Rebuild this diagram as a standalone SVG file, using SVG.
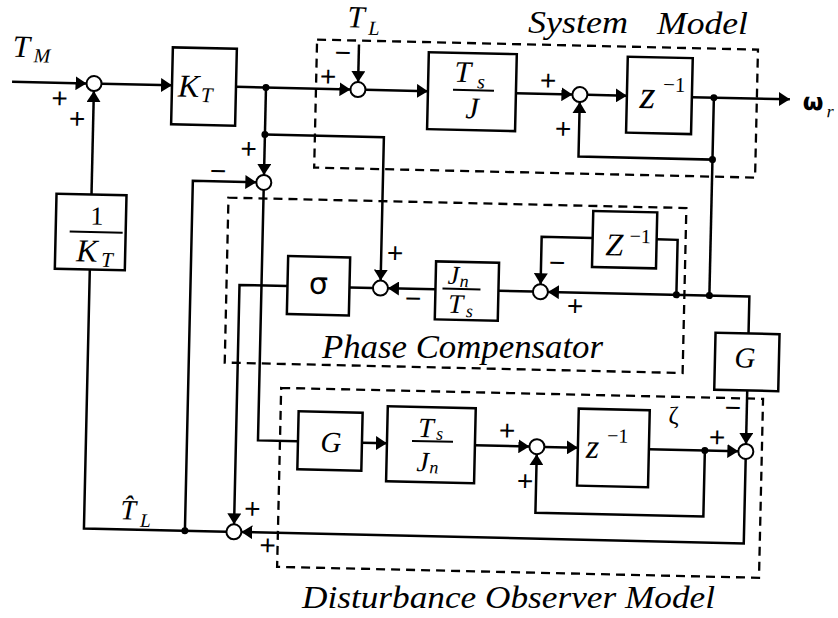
<svg xmlns="http://www.w3.org/2000/svg" width="838" height="618" viewBox="0 0 838 618">
<style>
.ln{fill:none;stroke:#000;stroke-width:2.5;stroke-linejoin:miter}
.ar{marker-end:url(#ah)}
.bx{fill:#fff;stroke:#000;stroke-width:2.5}
.db{fill:none;stroke:#000;stroke-width:2.3;stroke-dasharray:9 6}
.sm{fill:#fff;stroke:#000;stroke-width:2}
.dot{fill:#000}
.mi{font-family:"Liberation Serif",serif;font-style:italic;fill:#000}
.rm{font-family:"Liberation Serif",serif;fill:#000}
.sg{font-family:"Liberation Sans",sans-serif;font-size:28px;text-anchor:middle;fill:#000}
.lbl{font-family:"Liberation Serif",serif;font-style:italic;fill:#000}
.fr{stroke:#000;stroke-width:2}
</style>
<defs>
<marker id="ah" markerUnits="userSpaceOnUse" markerWidth="12" markerHeight="14" refX="11" refY="7" orient="auto"><path d="M0,0 L11,7 L0,14 z" fill="#000"/></marker>
</defs>
<rect width="838" height="618" fill="#fff"/>
<g id="titles">
<text class="lbl" font-size="32"><tspan x="528" y="33" textLength="100" lengthAdjust="spacingAndGlyphs">System</tspan><tspan x="657" y="34" textLength="91" lengthAdjust="spacingAndGlyphs">Model</tspan></text>
<text class="lbl" x="322" y="358" font-size="33" textLength="281" lengthAdjust="spacingAndGlyphs">Phase Compensator</text>
<text class="lbl" x="302" y="608" font-size="32" textLength="413" lengthAdjust="spacingAndGlyphs">Disturbance Observer Model</text>
</g>
<g transform="rotate(1.3 419 309)">
<g id="regions">
<rect class="db" x="311" y="42" width="441" height="128"/>
<rect class="db" x="226" y="202" width="458" height="165"/>
<rect class="db" x="283" y="391" width="482" height="179"/>
</g>
<g id="connectors">
<path class="ln ar" d="M7,91 H81.5"/>
<path class="ln ar" d="M96.5,91 H167"/>
<path class="ln ar" d="M231,91 H345.5"/>
<path class="ln ar" d="M353,46 V83.5"/>
<path class="ln ar" d="M360.5,91 H423"/>
<path class="ln ar" d="M511,91 H567.5"/>
<path class="ln ar" d="M582.5,91 H622"/>
<path class="ln ar" d="M687,91 H785"/>
<path class="ln ar" d="M709,91 V153 H575 V98.5"/>
<path class="ln ar" d="M261,91 V178.5"/>
<path class="ln ar" d="M261,138 H380 V281.5"/>
<path class="ln" d="M261,193.5 V444 H301"/>
<path class="ln ar" d="M365,444 H390"/>
<path class="ln ar" d="M478,444 H532.5"/>
<path class="ln ar" d="M547.5,444 H581"/>
<path class="ln ar" d="M652,444 H741.5"/>
<path class="ln ar" d="M708,444 V510 H540 V451.5"/>
<path class="ln ar" d="M749,451.5 V536 H246.5"/>
<path class="ln ar" d="M749,383 V436.5"/>
<path class="ln" d="M709,153 V289"/>
<path class="ln ar" d="M749,326 V289 H547.5"/>
<path class="ln" d="M655,234 H676 V289"/>
<path class="ln ar" d="M591,234 H540 V281.5"/>
<path class="ln" d="M532.5,289 H498"/>
<path class="ln ar" d="M435,289 H387.5"/>
<path class="ln" d="M372.5,289 H349"/>
<path class="ln ar" d="M287,289 H239 V528.5"/>
<path class="ln" d="M231.5,536 H89 V277"/>
<path class="ln ar" d="M89,202 V98.5"/>
<path class="ln ar" d="M190,536 V186 H253.5"/>
<circle class="dot" cx="261" cy="91" r="3.5"/>
<circle class="dot" cx="261" cy="138" r="3.5"/>
<circle class="dot" cx="709" cy="91" r="3.5"/>
<circle class="dot" cx="709" cy="153" r="3.5"/>
<circle class="dot" cx="709" cy="289" r="3.5"/>
<circle class="dot" cx="676" cy="289" r="3.5"/>
<circle class="dot" cx="708" cy="444" r="3.5"/>
<circle class="dot" cx="190" cy="536" r="3.5"/>
</g>
<g id="labels">
<text class="mi"><tspan x="7" y="66" font-size="31">T</tspan><tspan x="28" y="71" font-size="20">M</tspan></text>
<text class="mi"><tspan x="341" y="29" font-size="31">T</tspan><tspan x="362" y="36" font-size="20">L</tspan></text>
<text class="mi"><tspan x="125" y="526" font-size="28">T̂</tspan><tspan x="145" y="533" font-size="19">L</tspan></text>
<text class="rm" x="676" y="418" font-size="25" text-anchor="middle">ζ</text>
<text font-family="DejaVu Sans, sans-serif" font-weight="bold" fill="#000"><tspan x="798" y="101" font-size="24">ω</tspan><tspan x="822" y="108" font-size="18" font-family="Liberation Serif, serif" font-style="italic" font-weight="normal">r</tspan></text>
<text class="sg" x="55" y="116">+</text>
<text class="sg" x="73" y="136">+</text>
<text class="sg" x="337" y="64">−</text>
<text class="sg" x="323" y="88">+</text>
<text class="sg" x="543" y="87">+</text>
<text class="sg" x="559" y="135">+</text>
<text class="sg" x="245" y="162">+</text>
<text class="sg" x="215" y="185">−</text>
<text class="sg" x="394" y="263">+</text>
<text class="sg" x="413" y="308">−</text>
<text class="sg" x="556" y="269">−</text>
<text class="sg" x="575" y="312">+</text>
<text class="sg" x="510" y="438">+</text>
<text class="sg" x="529" y="488">+</text>
<text class="sg" x="735" y="410">−</text>
<text class="sg" x="720" y="440">+</text>
<text class="sg" x="257" y="522">+</text>
<text class="sg" x="273" y="558">+</text>
</g>
<g id="sum1"><circle class="sm" cx="89" cy="91" r="7.5"/></g>
<g id="sum2"><circle class="sm" cx="353" cy="91" r="7.5"/></g>
<g id="sum3"><circle class="sm" cx="575" cy="91" r="7.5"/></g>
<g id="sum4"><circle class="sm" cx="261" cy="186" r="7.5"/></g>
<g id="sum5"><circle class="sm" cx="380" cy="289" r="7.5"/></g>
<g id="sum6"><circle class="sm" cx="540" cy="289" r="7.5"/></g>
<g id="sum7"><circle class="sm" cx="540" cy="444" r="7.5"/></g>
<g id="sum8"><circle class="sm" cx="749" cy="444" r="7.5"/></g>
<g id="sum9"><circle class="sm" cx="239" cy="536" r="7.5"/></g>
<g id="kt">
<rect class="bx" x="167" y="53" width="64" height="77"/>
<text class="mi"><tspan x="173" y="102" font-size="32">K</tspan><tspan x="196" y="107" font-size="21">T</tspan></text>
</g>
<g id="tsj">
<rect class="bx" x="423" y="52" width="88" height="77"/>
<text class="mi"><tspan x="449" y="81" font-size="30">T</tspan><tspan x="472" y="87" font-size="20">s</tspan></text>
<line class="fr" x1="448" y1="89" x2="489" y2="89"/>
<text class="mi" x="461" y="117" font-size="30">J</text>
</g>
<g id="zinv1">
<rect class="bx" x="622" y="52" width="65" height="76"/>
<text class="mi"><tspan x="635" y="103" font-size="40">z</tspan><tspan x="658" y="86" font-size="21" font-style="normal">−1</tspan></text>
</g>
<g id="invkt">
<rect class="bx" x="54" y="202" width="70" height="75"/>
<text class="rm" x="95" y="232" font-size="26" text-anchor="middle">1</text>
<line class="fr" x1="68" y1="239.5" x2="121" y2="239.5"/>
<text class="mi"><tspan x="75" y="269" font-size="32">K</tspan><tspan x="100" y="274" font-size="21">T</tspan></text>
</g>
<g id="sigma">
<rect class="bx" x="287" y="259" width="62" height="58"/>
<text x="318" y="296" font-family="DejaVu Sans, sans-serif" font-size="30" text-anchor="middle" fill="#000">σ</text>
</g>
<g id="jnts">
<rect class="bx" x="435" y="261" width="63" height="58"/>
<text class="mi"><tspan x="447" y="283" font-size="26">J</tspan><tspan x="459" y="286" font-size="18">n</tspan></text>
<line class="fr" x1="442" y1="288" x2="480" y2="288"/>
<text class="mi"><tspan x="448" y="312" font-size="27">T</tspan><tspan x="466" y="316" font-size="18">s</tspan></text>
</g>
<g id="zinv2">
<rect class="bx" x="591" y="207" width="64" height="56"/>
<text class="mi"><tspan x="604" y="251" font-size="32">Z</tspan><tspan x="628" y="238" font-size="20" font-style="normal">−1</tspan></text>
</g>
<g id="g1">
<rect class="bx" x="716" y="326" width="64" height="57"/>
<text class="mi" x="746" y="360" font-size="29" text-anchor="middle">G</text>
</g>
<g id="g2">
<rect class="bx" x="301" y="414" width="64" height="58"/>
<text class="mi" x="334" y="454" font-size="29" text-anchor="middle">G</text>
</g>
<g id="tsjn">
<rect class="bx" x="390" y="407" width="88" height="75"/>
<text class="mi"><tspan x="421" y="437" font-size="28">T</tspan><tspan x="439" y="439" font-size="18">s</tspan></text>
<line class="fr" x1="415" y1="441" x2="456" y2="441"/>
<text class="mi"><tspan x="420" y="471" font-size="28">J</tspan><tspan x="433" y="473" font-size="18">n</tspan></text>
</g>
<g id="zinv3">
<rect class="bx" x="581" y="405" width="71" height="77"/>
<text class="mi"><tspan x="589" y="454" font-size="34">z</tspan><tspan x="610" y="438" font-size="20" font-style="normal">−1</tspan></text>
</g>
</g>
</svg>
